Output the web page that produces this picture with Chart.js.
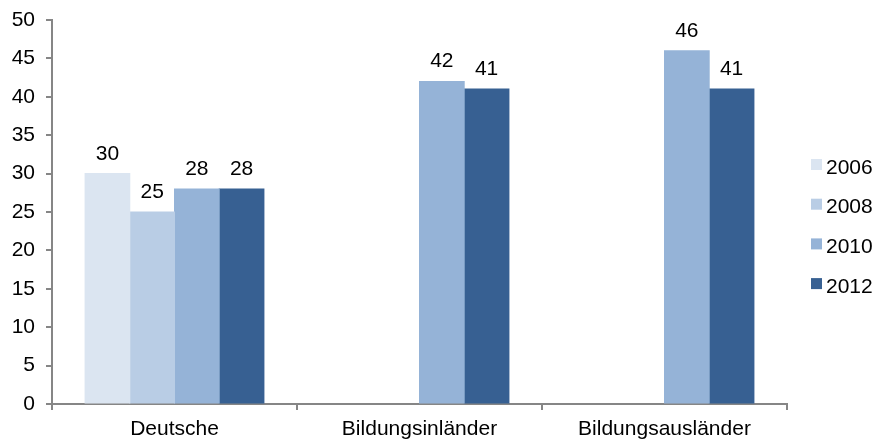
<!DOCTYPE html>
<html>
<head>
<meta charset="utf-8">
<script src="https://cdn.jsdelivr.net/npm/chart.js@4/dist/chart.umd.min.js"></script>
<style>
  html, body { margin: 0; padding: 0; background: #fff; }
  #wrap { width: 875px; height: 439px; }
</style>
</head>
<body>
<div id="wrap"><canvas id="c" width="875" height="439"></canvas></div>
<script>
// Groups on the x axis and the survey years shown as series
const categories = ['Deutsche', 'Bildungsinländer', 'Bildungsausländer'];
const years = ['2006', '2008', '2010', '2012'];

// Values per year (null where a group has no figure for that year)
const values2006 = [30, null, null];
const values2008 = [25, null, null];
const values2010 = [28, 42, 46];
const values2012 = [28, 41, 41];

// Y axis range and tick step
const yMin = 0;
const yMax = 50;
const yStep = 5;

const seriesValues = [values2006, values2008, values2010, values2012];
const seriesColors = ['#dbe5f1', '#b9cde5', '#95b3d7', '#376092'];

const FONT_FAMILY = '"Liberation Sans", Arial, Helvetica, sans-serif';
const FONT_SIZE = 21;
const AXIS_GREY = '#868686';

// Numbers written above each bar
const valueLabels = {
  id: 'valueLabels',
  afterDatasetsDraw(chart) {
    const ctx = chart.ctx;
    ctx.save();
    ctx.font = FONT_SIZE + 'px ' + FONT_FAMILY;
    ctx.fillStyle = '#000';
    ctx.textAlign = 'center';
    ctx.textBaseline = 'alphabetic';
    chart.data.datasets.forEach((ds, di) => {
      const meta = chart.getDatasetMeta(di);
      meta.data.forEach((bar, i) => {
        const v = ds.data[i];
        if (v === null || v === undefined) return;
        ctx.fillText(String(v), bar.x, bar.y - 14);
      });
    });
    ctx.restore();
  }
};

// Legend column on the right: small square swatch followed by the year
const sideLegend = {
  id: 'sideLegend',
  afterDraw(chart) {
    const ctx = chart.ctx;
    const boxX = 811, boxSize = 11, firstTop = 159, step = 39.7;
    ctx.save();
    ctx.font = FONT_SIZE + 'px ' + FONT_FAMILY;
    ctx.textAlign = 'left';
    ctx.textBaseline = 'alphabetic';
    chart.data.datasets.forEach((ds, i) => {
      const top = firstTop + i * step;
      ctx.fillStyle = ds.backgroundColor;
      ctx.fillRect(boxX, top, boxSize, boxSize);
      ctx.fillStyle = '#000';
      ctx.fillText(ds.label, boxX + boxSize + 4, top + 14.5);
    });
    ctx.restore();
  }
};

new Chart(document.getElementById('c'), {
  type: 'bar',
  data: {
    labels: categories,
    datasets: years.map((y, i) => ({
      label: y,
      data: seriesValues[i],
      backgroundColor: seriesColors[i],
      borderWidth: 0,
      inflateAmount: 0.5,
      categoryPercentage: 0.73,
      barPercentage: 1.0
    }))
  },
  options: {
    responsive: false,
    animation: false,
    devicePixelRatio: 1,
    layout: { padding: { top: 20, right: 88, left: 0, bottom: 0 } },
    plugins: {
      legend: { display: false },
      tooltip: { enabled: false }
    },
    scales: {
      x: {
        grid: {
          display: true,
          drawOnChartArea: false,
          drawTicks: true,
          tickLength: 6,
          color: AXIS_GREY,
          lineWidth: 2
        },
        border: { display: true, color: AXIS_GREY, width: 2 },
        ticks: {
          color: '#000',
          font: { family: FONT_FAMILY, size: FONT_SIZE },
          padding: 7,
          maxRotation: 0
        },
        afterFit(scale) {
          scale.height = 35;
          scale.paddingLeft = 0;
          scale.paddingRight = 0;
        }
      },
      y: {
        min: yMin,
        max: yMax,
        ticks: {
          stepSize: yStep,
          color: '#000',
          font: { family: FONT_FAMILY, size: FONT_SIZE },
          padding: 11
        },
        grid: {
          display: true,
          drawOnChartArea: false,
          drawTicks: true,
          tickLength: 6,
          color: AXIS_GREY,
          lineWidth: 2
        },
        border: { display: true, color: AXIS_GREY, width: 2 },
        afterFit(scale) {
          scale.width = 52;
          scale.paddingTop = 0;
          scale.paddingBottom = 0;
        }
      }
    }
  },
  plugins: [valueLabels, sideLegend]
});
</script>
</body>
</html>
